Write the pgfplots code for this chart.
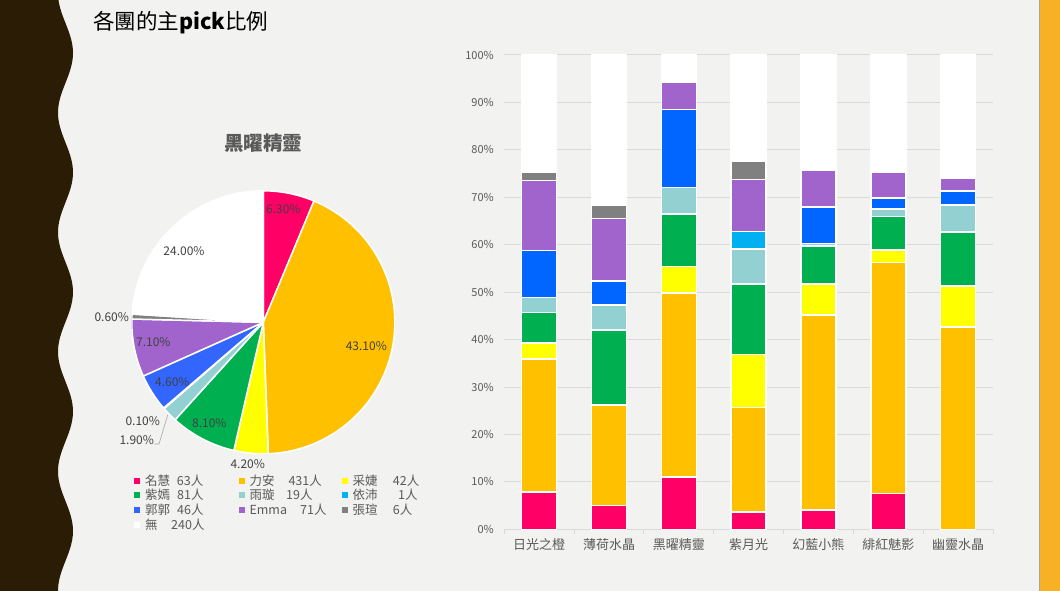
\documentclass[border=0pt]{standalone}
\usepackage{pgfplots}
\pgfplotsset{compat=1.18}
\usepackage{pgfplotstable}
\usepackage{fontspec}
\setmainfont{Noto Sans CJK TC}

\definecolor{bgc}{HTML}{F2F2F0}
\definecolor{brownS}{HTML}{2A1C05}
\definecolor{orangeS}{HTML}{F8B024}
\definecolor{cPink}{HTML}{FF0066}
\definecolor{cOrange}{HTML}{FFC000}
\definecolor{cYellow}{HTML}{FFFF00}
\definecolor{cGreen}{HTML}{00B050}
\definecolor{cLB}{HTML}{92D0D2}
\definecolor{cCyan}{HTML}{00B0F0}
\definecolor{cBlue}{HTML}{0066FF}
\definecolor{cBlueP}{HTML}{3366FF}
\definecolor{cPurple}{HTML}{A064CC}
\definecolor{cGray}{HTML}{808080}
\definecolor{gridc}{HTML}{D9D9D9}
\definecolor{txt}{HTML}{595959}
\definecolor{ptxt}{HTML}{404040}

\pgfplotstableread{
x pink orange yellow green lb cyan blue purple gray white
0 7.9 28.0 3.4 6.4 3.2 0 9.9 14.7 1.7 24.8
1 5.0 21.2 0 15.8 5.3 0 5.1 13.1 2.8 31.7
2 11.0 38.8 5.6 11.1 5.6 0 16.4 5.7 0 5.8
3 3.6 22.1 11.2 14.8 7.4 3.7 0 11.0 3.8 22.4
4 4.1 41.1 6.5 8.0 0.6 0 7.6 7.8 0.5 23.8
5 7.6 48.7 2.6 7.1 1.5 0 2.3 5.5 0 24.7
6 0 42.7 8.6 11.4 5.7 0 2.9 2.8 0 25.9
}\bardata

\begin{document}
\begin{tikzpicture}[x=1pt,y=1pt]
\useasboundingbox (0,0) rectangle (1060,591);
\fill[bgc] (0,0) rectangle (1060,591);
\fill[orangeS] (1039,0) rectangle (1060,591);
\draw[gray!70,line width=0.6pt] (1039,0) -- (1039,591);
\fill[brownS] (0,591) -- plot[domain=0:591, samples=150, variable=\t] ({65.5+7.5*cos((\t-53)*3.01255)}, {591-\t}) -- (0,0) -- cycle;

% title
\node[anchor=west, inner sep=0pt, font=\fontsize{21.5}{25}\selectfont] at (93,568) {各團的主\textbf{pick}比例};

% pie
\begin{axis}[hide axis, scale only axis, width=263pt, height=263pt,
  xmin=-1, xmax=1, ymin=-1, ymax=1, at={(263.3pt,268.7pt)}, anchor=center]
\addplot[draw=none] coordinates {(0,0)};
\pgfplotsextra{
 \gdef\cum{0}
 \foreach \v/\c in {6.3/cPink,43.1/cOrange,4.2/cYellow,8.1/cGreen,1.9/cLB,0.1/cCyan,4.6/cBlueP,7.1/cPurple,0.6/cGray,24.0/white}{
   \pgfmathsetmacro\aS{90-3.6*\cum}
   \pgfmathsetmacro\aE{90-3.6*(\cum+\v)}
   \pgfmathsetmacro\xS{cos(\aS)}
   \pgfmathsetmacro\yS{sin(\aS)}
   \filldraw[fill=\c, draw=white, line width=1.5pt, line join=round] (axis cs:0,0) -- (axis cs:\xS,\yS) arc[start angle=\aS, end angle=\aE, radius=131.5pt] -- cycle;
   \pgfmathsetmacro\newcum{\cum+\v}
   \xdef\cum{\newcum}
 }
}
\end{axis}

\node[font=\fontsize{19.5}{23}\selectfont\bfseries, text=txt] at (263.3,447.7) {黑曜精靈};

\begin{scope}[every node/.style={font=\fontsize{12}{14}\selectfont, text=ptxt, inner sep=0pt}]
\node at (283.3,381.7) {6.30\%};
\node at (366.3,245) {43.10\%};
\node at (247.7,127) {4.20\%};
\node at (209.3,168.3) {8.10\%};
\node at (136.7,151) {1.90\%};
\node at (142.7,170) {0.10\%};
\node at (172.3,209.3) {4.60\%};
\node at (153.3,249.3) {7.10\%};
\node at (111.7,274.3) {0.60\%};
\node at (184,340.3) {24.00\%};
\end{scope}
\draw[gray!70, line width=0.6pt] (167.7,176) -- (159,147) -- (154.3,147);

% pie legend
\begin{scope}[every node/.style={font=\fontsize{12.5}{15}\selectfont, text=txt, inner sep=0pt, anchor=west}]
\foreach \sx/\tx/\nx/\yy/\c/\nm/\num in {
  137.3/145/176.7/110.3/cPink/名慧/63人,
  241.7/249.3/288.3/110.3/cOrange/力安/431人,
  345/352.3/392.7/110.3/cYellow/采婕/42人,
  137.3/145/177/96/cGreen/紫嫣/81人,
  241.7/249.3/286/96/cLB/雨璇/19人,
  345/352.3/398/96/cCyan/依沛/1人,
  137.3/145/177/81/cBlueP/郭郭/46人,
  241.7/249.3/300/81/cPurple/Emma/71人,
  345/352.3/392.7/81/cGray/張瑄/6人,
  137.3/145/171/66/white/無/240人}{
  \fill[\c] (\sx-3,\yy-3) rectangle (\sx+3,\yy+3);
  \node at (\tx,\yy) {\nm};
  \node at (\nx,\yy) {\num};
}
\end{scope}

% bar chart
\begin{axis}[
  at={(504.3pt,61.7pt)}, anchor=south west,
  scale only axis, width=488.7pt, height=474.3pt,
  ybar stacked, bar width=35pt,
  xmin=-0.5, xmax=6.5, ymin=0, ymax=100,
  axis lines*=left,
  y axis line style={draw=none},
  x axis line style={draw=gridc, line width=1pt},
  xtick={0,...,6},
  xticklabels={日光之橙,薄荷水晶,黑曜精靈,紫月光,幻藍小熊,緋紅魅影,幽靈水晶},
  minor xtick={-0.5,0.5,...,6.5},
  major tick length=0pt,
  minor tick length=5pt,
  minor tick style={draw=gridc, line width=1pt},
  tick align=outside,
  ytick={0,10,...,100},
  ymajorgrids,
  major grid style={draw=gridc, line width=1pt},
  yticklabel={\pgfmathprintnumber{\tick}\%},
  /pgf/number format/assume math mode=true,
  yticklabel style={font=\fontsize{11}{13}\selectfont, text=txt, xshift=-7pt},
  xticklabel style={font=\fontsize{13}{15}\selectfont, text=txt, yshift=-6pt},
]
\addplot[fill=cPink, draw=white, line width=1.5pt] table[x=x,y=pink]{\bardata};
\addplot[fill=cOrange, draw=white, line width=1.5pt] table[x=x,y=orange]{\bardata};
\addplot[fill=cYellow, draw=white, line width=1.5pt] table[x=x,y=yellow]{\bardata};
\addplot[fill=cGreen, draw=white, line width=1.5pt] table[x=x,y=green]{\bardata};
\addplot[fill=cLB, draw=white, line width=1.5pt] table[x=x,y=lb]{\bardata};
\addplot[fill=cCyan, draw=white, line width=1.5pt] table[x=x,y=cyan]{\bardata};
\addplot[fill=cBlue, draw=white, line width=1.5pt] table[x=x,y=blue]{\bardata};
\addplot[fill=cPurple, draw=white, line width=1.5pt] table[x=x,y=purple]{\bardata};
\addplot[fill=cGray, draw=white, line width=1.5pt] table[x=x,y=gray]{\bardata};
\addplot[fill=white, draw=white, line width=1.5pt] table[x=x,y=white]{\bardata};
\end{axis}
\end{tikzpicture}
\end{document}
